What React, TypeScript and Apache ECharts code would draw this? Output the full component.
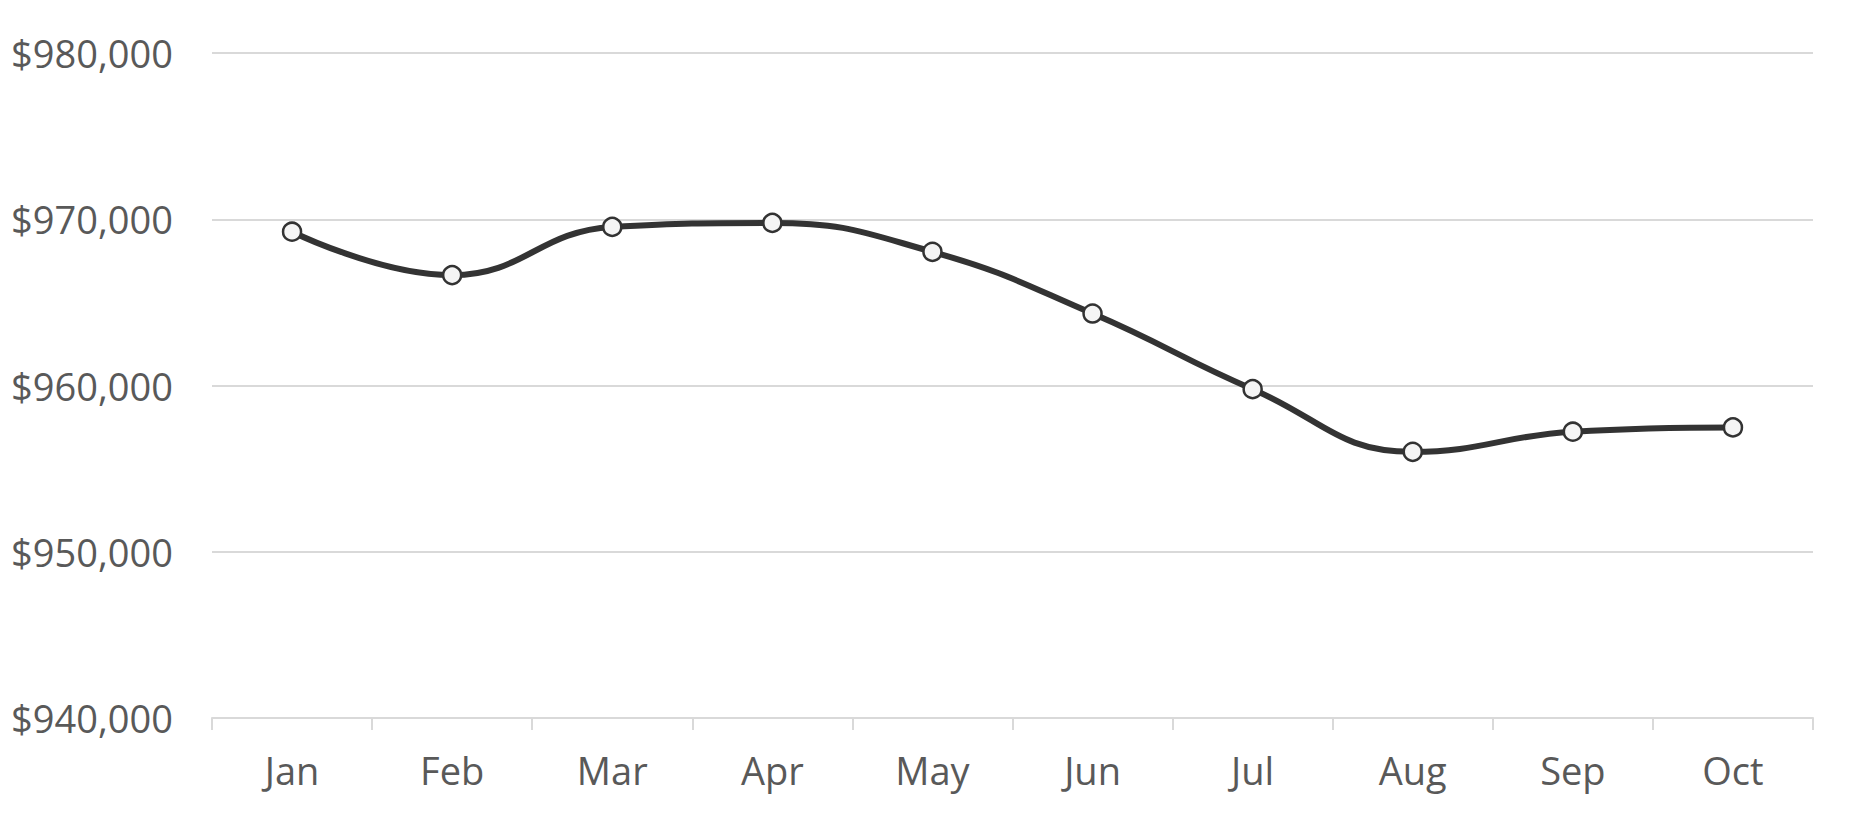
import React, { useEffect, useRef } from "react";
import * as echarts from "echarts";

const months = ["Jan", "Feb", "Mar", "Apr", "May", "Jun", "Jul", "Aug", "Sep", "Oct"];
const prices = [969250, 966640, 969540, 969780, 968040, 964330, 959780, 956010, 957220, 957480];
const yTicks = { min: 940000, max: 980000, interval: 10000 };

const FONT = "'Open Sans', sans-serif";
const TEXT = "#595959";

export default function App() {
  const ref = useRef<HTMLDivElement>(null);
  useEffect(() => {
    if (!ref.current) return;
    const chart = echarts.init(ref.current, undefined, { renderer: "svg" });
    chart.setOption({
      animation: false,
      backgroundColor: "#ffffff",
      grid: { left: 212, right: 40, top: 53, bottom: 103, containLabel: false },
      xAxis: {
        type: "category",
        data: months,
        boundaryGap: true,
        axisLine: { show: true, lineStyle: { color: "#d9d9d9", width: 2 } },
        axisTick: { show: true, length: 12, lineStyle: { color: "#d9d9d9", width: 2 } },
        axisLabel: { color: TEXT, fontFamily: FONT, fontSize: 38, margin: 33 },
      },
      yAxis: {
        type: "value",
        min: yTicks.min,
        max: yTicks.max,
        interval: yTicks.interval,
        axisLine: { show: false },
        axisTick: { show: false },
        splitLine: { lineStyle: { color: "#d9d9d9", width: 2 } },
        axisLabel: {
          color: TEXT,
          fontFamily: FONT,
          fontSize: 38,
          margin: 39,
          padding: [0, 0, 5, 0],
          formatter: (v: number) => "$" + v.toLocaleString("en-US"),
        },
      },
      series: [
        {
          type: "line",
          data: prices,
          smooth: 0.45,
          symbol: "circle",
          symbolSize: 18,
          lineStyle: { color: "#333333", width: 6 },
          itemStyle: { color: "#f5f5f5", borderColor: "#333333", borderWidth: 2.5 },
        },
      ],
    });
    return () => chart.dispose();
  }, []);
  return <div ref={ref} style={{ position: "fixed", left: 0, top: 0, width: 1853, height: 821 }} />;
}
